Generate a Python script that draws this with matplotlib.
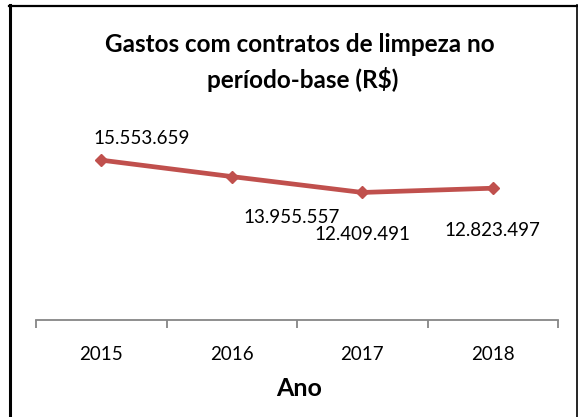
import matplotlib
matplotlib.use("Agg")
import matplotlib.pyplot as plt
from matplotlib.lines import Line2D
import numpy as np

years = ["2015", "2016", "2017", "2018"]
values = [15553659, 13955557, 12409491, 12823497]
value_labels = ["15.553.659", "13.955.557", "12.409.491", "12.823.497"]
label_offsets_px = [(40, 22), (60, -41), (0, -42), (0, -42)]
title_lines = ["Gastos com contratos de limpeza no", "período-base (R$)"]
x_label = "Ano"

plt.rcParams['font.family'] = ['Lato', 'DejaVu Sans']

W, H = 578, 417
fig = plt.figure(figsize=(W / 100, H / 100), dpi=100)
fig.patch.set_facecolor("white")


def fx(px):
    return px / W


def fy(py):
    return 1 - py / H


ax = fig.add_axes([fx(36), fy(320), fx(558) - fx(36), (320 - 135) / H])
ax.set_facecolor("none")
x = np.arange(len(years))
ax.plot(x, values, color="#C0504D", lw=3.4, marker="D", ms=6.5,
        mec="#C0504D", mfc="#C0504D", solid_capstyle="round",
        solid_joinstyle="round", zorder=3, clip_on=False)
ax.set_xlim(-0.5, len(years) - 0.5)
ax.set_ylim(0, 18000000)
for s in ["left", "right", "top"]:
    ax.spines[s].set_visible(False)
ax.spines["bottom"].set_color("#868686")
ax.spines["bottom"].set_linewidth(1.3)
ax.set_yticks([])
ax.set_xticks(x)
ax.set_xticklabels(years, fontsize=13.5, color="black")
ax.tick_params(axis="x", which="major", length=0, pad=19)
ax.set_xticks(np.arange(-0.5, len(years), 1), minor=True)
ax.tick_params(axis="x", which="minor", length=6, width=1.3,
               color="#868686", direction="out")

for xi, v, lab, (dx, dy) in zip(x, values, value_labels, label_offsets_px):
    ax.annotate(lab, xy=(xi, v), xytext=(dx, dy), textcoords="offset pixels",
                ha="center", va="center", fontsize=13.5, color="black")

fig.text(fx(300), fy(44), title_lines[0], ha="center", va="center",
         fontsize=17.5, fontweight="bold")
fig.text(fx(303), fy(79), title_lines[1], ha="center", va="center",
         fontsize=17.5, fontweight="bold")
fig.text(fx(299), fy(388), x_label, ha="center", va="center",
         fontsize=18, fontweight="bold")

# chart frame
fig.add_artist(Line2D([fx(9.5), fx(9.5)], [fy(5), fy(420)], color="black", lw=2.2))
fig.add_artist(Line2D([fx(8.5), fx(578)], [fy(5.5), fy(5.5)], color="black", lw=1.6))
fig.add_artist(Line2D([fx(576.5), fx(576.5)], [fy(5), fy(420)], color="black", lw=1.2))

fig.savefig("out.png", dpi=100)
